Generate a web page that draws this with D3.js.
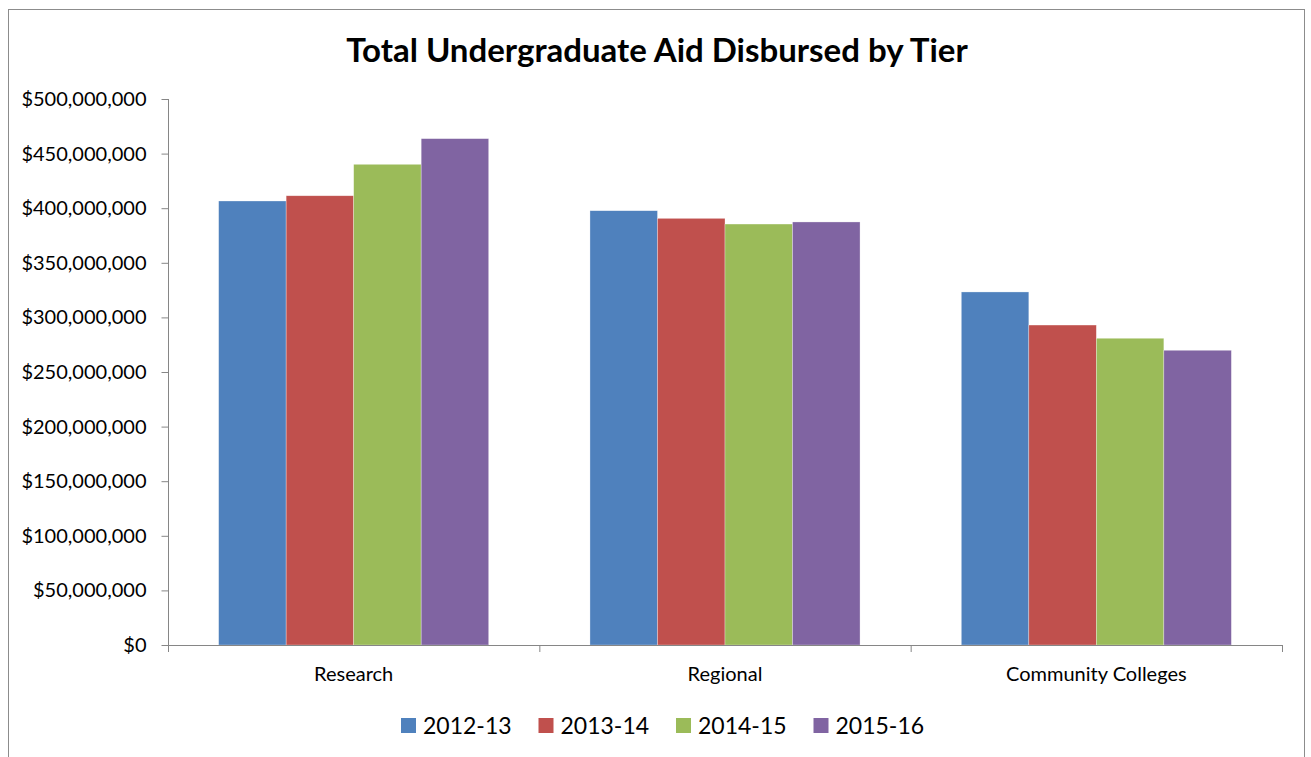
<!DOCTYPE html>
<html><head><meta charset="utf-8">
<script src="https://cdn.jsdelivr.net/npm/d3@7"></script>
<style>body{margin:0;background:#fff;}svg{display:block;font-family:Lato,"Open Sans",sans-serif;}</style>
</head><body>
<svg id="c" width="1311" height="757"></svg>
<script>
const categories = ["Research", "Regional", "Community Colleges"];
const seriesNames = ["2012-13", "2013-14", "2014-15", "2015-16"];
const values2012 = [406600000, 397700000, 323300000];
const values2013 = [411400000, 390700000, 293000000];
const values2014 = [440200000, 385500000, 280900000];
const values2015 = [463700000, 387400000, 269900000];
const colors = ["#4F81BD", "#C0504D", "#9BBB59", "#8064A2"];
const yTicks = [0,50000000,100000000,150000000,200000000,250000000,300000000,350000000,400000000,450000000,500000000];
const title = "Total Undergraduate Aid Disbursed by Tier";

(function(){
const series = [values2012, values2013, values2014, values2015];
const svg = d3.select("#c");
svg.append("rect").attr("x",8.5).attr("y",9.5).attr("width",1296).attr("height",760)
  .attr("fill","none").attr("stroke","#8c8c8c").attr("stroke-width",1);

const pl=168, pr=1282, pt=99, pb=645;
const x0 = d3.scaleBand().domain(categories).range([pl,pr]).paddingInner(0).paddingOuter(0);
const x1 = d3.scaleBand().domain(seriesNames).range([0, x0.bandwidth()]).paddingInner(0).paddingOuter(0.75);
const y = d3.scaleLinear().domain([0,500000000]).range([pb,pt]);

svg.append("text").attr("x",657).attr("y",62).attr("text-anchor","middle")
  .attr("font-size",33).attr("font-weight","bold").attr("fill","#000").text(title);

categories.forEach((c,ci)=>{
  seriesNames.forEach((s,si)=>{
    const v = series[si][ci];
    svg.append("rect").attr("x",x0(c)+x1(s)).attr("y",y(v))
      .attr("width",x1.bandwidth()).attr("height",y(0)-y(v))
      .attr("fill",colors[si]).attr("stroke","rgba(255,255,255,0.5)").attr("stroke-width",0.6);
  });
});

const fmt = d => "$" + d3.format(",")(d);
const ya = svg.append("g").attr("transform",`translate(${pl+0.5},0)`)
  .call(d3.axisLeft(y).tickValues(yTicks).tickFormat(fmt).tickSize(7).tickPadding(15));
ya.selectAll("path,line").attr("stroke","#868686");
ya.selectAll("text").attr("font-size",20).attr("fill","#000").attr("font-family","Lato,sans-serif");
ya.select(".domain").attr("d",`M0,${pt}V${pb}`);

const xa = svg.append("g").attr("transform",`translate(0,${pb+0.5})`)
  .call(d3.axisBottom(x0).tickSize(0).tickPadding(21));
xa.select(".domain").attr("stroke","#868686").attr("d",`M${pl},0H${pr}`);
xa.selectAll("text").attr("font-size",20).attr("fill","#000").attr("font-family","Lato,sans-serif");
const bounds = [pl, ...categories.map(c=>x0(c)+x0.bandwidth())];
svg.selectAll(".bt").data(bounds).enter().append("line")
  .attr("x1",d=>d+0.5).attr("x2",d=>d+0.5).attr("y1",pb).attr("y2",pb+7)
  .attr("stroke","#868686");

const legX = [401, 538.5, 676, 813.5];
const lg = svg.append("g");
seriesNames.forEach((s,i)=>{
  lg.append("rect").attr("x",legX[i]).attr("y",718).attr("width",15).attr("height",15).attr("fill",colors[i]);
  lg.append("text").attr("x",legX[i]+22).attr("y",733.5).attr("font-size",23).attr("fill","#000").text(s);
});
})();
</script>
</body></html>
